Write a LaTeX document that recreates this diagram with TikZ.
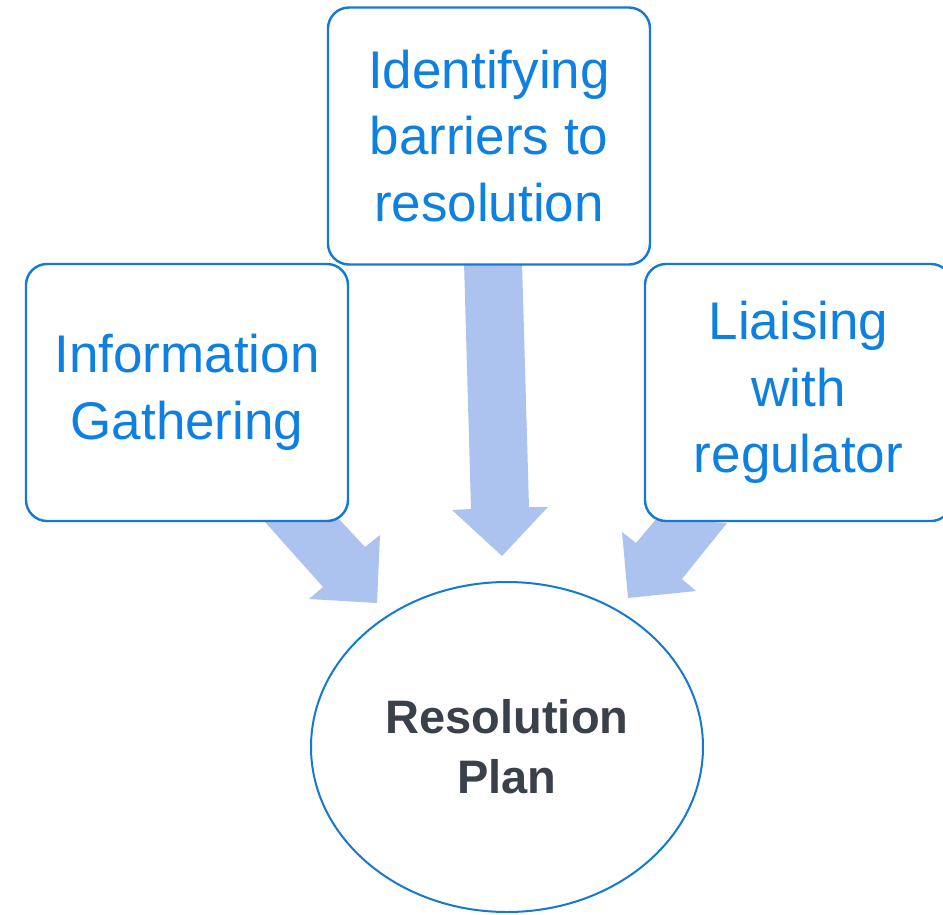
\documentclass[tikz,border=0pt]{standalone}
\usepackage{fontspec}
\setmainfont{Liberation Sans}
\usetikzlibrary{shapes.geometric}
\definecolor{boxline}{HTML}{1479D2}
\definecolor{boxtext}{HTML}{0D80E2}
\definecolor{arrowfill}{HTML}{ADC3EF}
\definecolor{plantext}{HTML}{3A414B}
\tikzset{
  stepbox/.style={draw=boxline, line width=2.4pt, fill=white, rounded corners=21pt,
    minimum width=322pt, minimum height=257pt, inner sep=0pt, align=center,
    text=boxtext, font=\fontsize{53}{66.5}\selectfont},
  planell/.style={ellipse, draw=boxline, line width=2pt, fill=white,
    minimum width=392pt, minimum height=330pt, inner sep=0pt, align=center,
    text=plantext, font=\fontsize{47}{60}\selectfont\bfseries},
  blockarrow/.style={fill=arrowfill, draw=none}
}
\begin{document}
\begin{tikzpicture}[x=1pt,y=-1pt]
\useasboundingbox (0,0) rectangle (943,914);
% block arrows (behind boxes)
\fill[blockarrow] (265,522) -- (338,518) -- (365,547) -- (380,535) -- (377,603) -- (309,599) -- (323,587) -- cycle;
\fill[blockarrow] (464,262) -- (522,262) -- (529,507) -- (548,507) -- (502,556) -- (452,510) -- (471,509) -- cycle;
\fill[blockarrow] (727,523) -- (657,518) -- (636,543) -- (622,532) -- (628,598) -- (696,591) -- (682,579) -- cycle;
% boxes
\node[stepbox] (info) at (187,392.5) {Information\\Gathering};
\node[stepbox] (barr) at (489,136) {Identifying\\barriers to\\resolution};
\node[stepbox, minimum width=307pt] (liais) at (798.5,392.5) {Liaising\\with\\regulator};
% result
\node[planell] (plan) at (507,747) {Resolution\\Plan};
\end{tikzpicture}
\end{document}
